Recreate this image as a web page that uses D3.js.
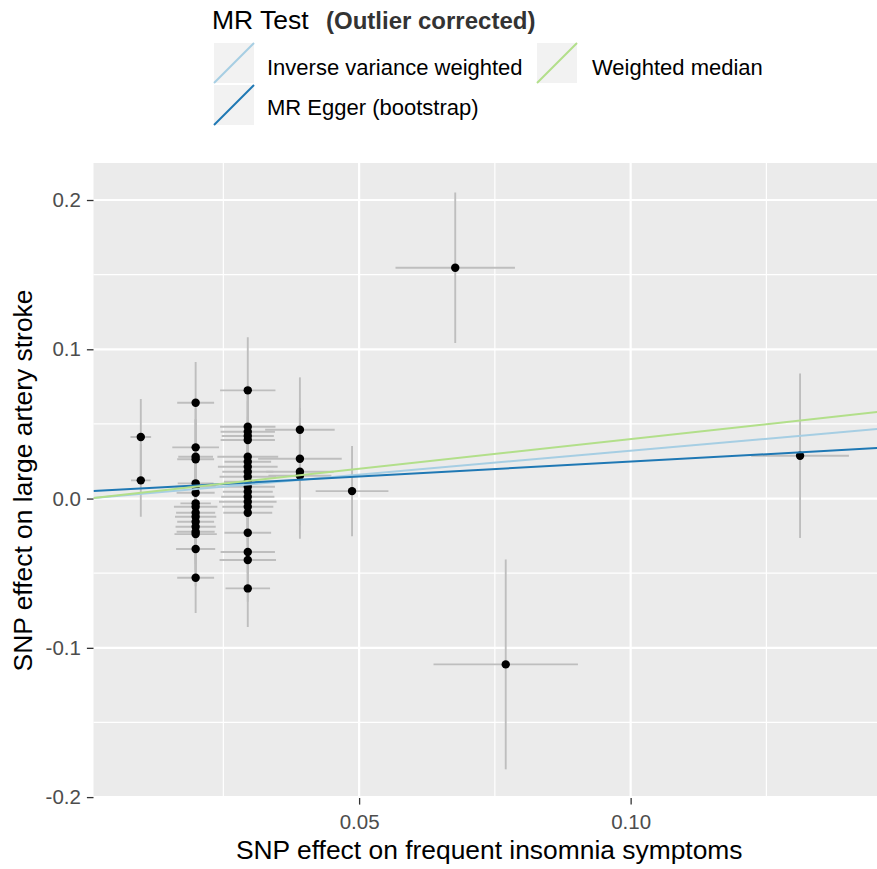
<!DOCTYPE html>
<html>
<head>
<meta charset="utf-8">
<script src="https://cdn.jsdelivr.net/npm/d3@7"></script>
<style>
  body { margin: 0; background: #ffffff; }
  svg { display: block; }
  text { font-family: "Liberation Sans", Arial, Helvetica, sans-serif; }
</style>
</head>
<body>
<svg id="chart" width="877" height="869"></svg>
<script>
// SNP effects on the exposure (frequent insomnia symptoms)
const betaExposure = [
  0.0098, 0.0098,
  0.0199, 0.0199, 0.0199, 0.0199, 0.0199, 0.0199, 0.0199, 0.0199, 0.0199,
  0.0199, 0.0199, 0.0199, 0.0199, 0.0199, 0.0199, 0.0199, 0.0199,
  0.0295, 0.0295, 0.0295, 0.0295, 0.0295, 0.0295, 0.0295, 0.0295, 0.0295,
  0.0295, 0.0295, 0.0295, 0.0295, 0.0295, 0.0295, 0.0295, 0.0295, 0.0295,
  0.0295, 0.0295, 0.0295,
  0.0391, 0.0391, 0.0391, 0.0391,
  0.0487, 0.0677, 0.0770, 0.1312
];
const seExposure = [
  0.0019, 0.0018,
  0.0034, 0.0043, 0.0032, 0.0034, 0.0033, 0.0037, 0.0035, 0.0028, 0.0040,
  0.0036, 0.0038, 0.0034, 0.0037, 0.0035, 0.0039, 0.0036, 0.0034,
  0.0051, 0.0051, 0.0050, 0.0048, 0.0050, 0.0056, 0.0043, 0.0055, 0.0047,
  0.0052, 0.0044, 0.0050, 0.0046, 0.0049, 0.0053, 0.0047, 0.0045, 0.0043,
  0.0050, 0.0052, 0.0041,
  0.0064, 0.0077, 0.0062, 0.0058,
  0.0067, 0.0110, 0.0133, 0.0090
];
// SNP effects on the outcome (large artery stroke)
const betaOutcome = [
  0.0412, 0.0122,
  0.0642, 0.0343, 0.0280, 0.0263, 0.0102, 0.0079, 0.0039, -0.0032, -0.0055,
  -0.0095, -0.0122, -0.0155, -0.0189, -0.0222, -0.0238, -0.0338, -0.0531,
  0.0725, 0.0481, 0.0448, 0.0419, 0.0392, 0.0280, 0.0247, 0.0213, 0.0180,
  0.0146, 0.0113, 0.0079, 0.0046, 0.0012, -0.0021, -0.0055, -0.0095, -0.0229,
  -0.0358, -0.0412, -0.0602,
  0.0461, 0.0267, 0.0180, 0.0153,
  0.0050, 0.1546, -0.1111, 0.0287
];
const seOutcome = [
  0.0255, 0.0244,
  0.0273, 0.0260, 0.0250, 0.0270, 0.0240, 0.0260, 0.0250, 0.0240, 0.0260,
  0.0250, 0.0240, 0.0260, 0.0250, 0.0270, 0.0240, 0.0250, 0.0236,
  0.0355, 0.0280, 0.0270, 0.0290, 0.0260, 0.0270, 0.0250, 0.0280, 0.0260,
  0.0270, 0.0250, 0.0260, 0.0280, 0.0250, 0.0270, 0.0260, 0.0250, 0.0270,
  0.0260, 0.0280, 0.0259,
  0.0351, 0.0340, 0.0360, 0.0422,
  0.0302, 0.0504, 0.0703, 0.0551
];

// MR estimates drawn as regression lines
const methodNames = ["Inverse variance weighted", "MR Egger (bootstrap)", "Weighted median"];
const methodIntercepts = [0, 0.0048, 0];
const methodSlopes = [0.3203, 0.1996, 0.3987];
const methodColours = ["#A6CEE3", "#1F78B4", "#B2DF8A"];

const xTickValues = [0.05, 0.10];
const xTickLabels = ["0.05", "0.10"];
const xMinorValues = [0.025, 0.075, 0.125];
const yTickValues = [0.2, 0.1, 0.0, -0.1, -0.2];
const yTickLabels = ["0.2", "0.1", "0.0", "-0.1", "-0.2"];
const yMinorValues = [0.15, 0.05, -0.05, -0.15];

const svg = d3.select("#chart");
const panel = { left: 93.5, right: 885, top: 163, bottom: 798 };

const x = d3.scaleLinear().domain([0.00109, 0.14684]).range([panel.left, panel.right]);
const y = d3.scaleLinear().domain([-0.2006, 0.2248]).range([panel.bottom, panel.top]);

svg.append("defs").append("clipPath").attr("id", "panel-clip")
  .append("rect")
  .attr("x", panel.left).attr("y", panel.top)
  .attr("width", panel.right - panel.left).attr("height", panel.bottom - panel.top);

// panel background
svg.append("rect")
  .attr("x", panel.left).attr("y", panel.top)
  .attr("width", panel.right - panel.left).attr("height", panel.bottom - panel.top)
  .attr("fill", "#EBEBEB");

// grid lines
const grid = svg.append("g");
grid.selectAll(".xminor").data(xMinorValues).join("line")
  .attr("x1", d => x(d)).attr("x2", d => x(d))
  .attr("y1", panel.top).attr("y2", panel.bottom)
  .attr("stroke", "#ffffff").attr("stroke-width", 1.2);
grid.selectAll(".yminor").data(yMinorValues).join("line")
  .attr("y1", d => y(d)).attr("y2", d => y(d))
  .attr("x1", panel.left).attr("x2", panel.right)
  .attr("stroke", "#ffffff").attr("stroke-width", 1.2);
grid.selectAll(".xmajor").data(xTickValues).join("line")
  .attr("x1", d => x(d)).attr("x2", d => x(d))
  .attr("y1", panel.top).attr("y2", panel.bottom)
  .attr("stroke", "#ffffff").attr("stroke-width", 2.2);
grid.selectAll(".ymajor").data(yTickValues).join("line")
  .attr("y1", d => y(d)).attr("y2", d => y(d))
  .attr("x1", panel.left).attr("x2", panel.right)
  .attr("stroke", "#ffffff").attr("stroke-width", 2.2);

const snps = betaExposure.map((bx, i) => ({
  bx, sx: seExposure[i], by: betaOutcome[i], sy: seOutcome[i]
}));

const plot = svg.append("g").attr("clip-path", "url(#panel-clip)");

// vertical error bars (outcome SE)
plot.append("g").selectAll("line").data(snps).join("line")
  .attr("x1", d => x(d.bx)).attr("x2", d => x(d.bx))
  .attr("y1", d => y(d.by - d.sy)).attr("y2", d => y(d.by + d.sy))
  .attr("stroke", "#BEBEBE").attr("stroke-width", 1.9);

// horizontal error bars (exposure SE)
plot.append("g").selectAll("line").data(snps).join("line")
  .attr("x1", d => x(d.bx - d.sx)).attr("x2", d => x(d.bx + d.sx))
  .attr("y1", d => y(d.by)).attr("y2", d => y(d.by))
  .attr("stroke", "#BEBEBE").attr("stroke-width", 1.9);

// SNP points
plot.append("g").selectAll("circle").data(snps).join("circle")
  .attr("cx", d => x(d.bx)).attr("cy", d => y(d.by))
  .attr("r", 4.2).attr("fill", "#000000");

// method lines across the full panel
const xDom = x.domain();
const methods = methodNames.map((name, i) => ({
  name, a: methodIntercepts[i], b: methodSlopes[i], colour: methodColours[i]
}));
plot.append("g").selectAll("line").data(methods).join("line")
  .attr("x1", x(xDom[0])).attr("x2", x(xDom[1]))
  .attr("y1", d => y(d.a + d.b * xDom[0]))
  .attr("y2", d => y(d.a + d.b * xDom[1]))
  .attr("stroke", d => d.colour).attr("stroke-width", 2);

// axes
const yAxis = svg.append("g")
  .attr("transform", `translate(${panel.left},0)`)
  .call(d3.axisLeft(y).tickValues(yTickValues).tickSize(6.6).tickPadding(6)
    .tickFormat((d, i) => yTickLabels[i]));
const xAxis = svg.append("g")
  .attr("transform", `translate(0,${panel.bottom})`)
  .call(d3.axisBottom(x).tickValues(xTickValues).tickSize(6.6).tickPadding(5)
    .tickFormat((d, i) => xTickLabels[i]));
[xAxis, yAxis].forEach(ax => {
  ax.select(".domain").remove();
  ax.selectAll(".tick line").attr("stroke", "#333333").attr("stroke-width", 1.3);
  ax.selectAll(".tick text")
    .attr("fill", "#4D4D4D")
    .style("font-size", "20.5px")
    .style("font-family", "'Liberation Sans', Arial, sans-serif");
});
xAxis.selectAll(".tick text").attr("dy", null).attr("y", 31);

// axis titles
svg.append("text")
  .attr("x", (panel.left + panel.right) / 2).attr("y", 859)
  .attr("text-anchor", "middle")
  .style("font-size", "26.4px").attr("fill", "#000000")
  .text("SNP effect on frequent insomnia symptoms");
svg.append("text")
  .attr("transform", `translate(32,${(panel.top + panel.bottom) / 2}) rotate(-90)`)
  .attr("text-anchor", "middle")
  .style("font-size", "26.4px").attr("fill", "#000000")
  .text("SNP effect on large artery stroke");

// legend
const legend = svg.append("g");
const title = legend.append("text").attr("x", 212).attr("y", 29).attr("fill", "#000000");
title.append("tspan").style("font-size", "26.5px").text("MR Test");
title.append("tspan").attr("x", 326).style("font-size", "24px").style("font-weight", "bold")
  .attr("fill", "#333333").text("(Outlier corrected)");

const keySize = 40;
const legendSlots = [
  { kx: 214, ky: 43, tx: 267, ty: 75 },
  { kx: 214, ky: 85, tx: 267, ty: 115 },
  { kx: 537, ky: 43, tx: 592, ty: 75 }
];
const keys = legend.selectAll(".key").data(methods).join("g")
  .attr("transform", (d, i) => `translate(${legendSlots[i].kx},${legendSlots[i].ky})`);
keys.append("rect").attr("width", keySize).attr("height", keySize).attr("fill", "#F2F2F2");
keys.append("line")
  .attr("x1", 0).attr("y1", keySize).attr("x2", keySize).attr("y2", 0)
  .attr("stroke", d => d.colour).attr("stroke-width", 2);
legend.selectAll(".label").data(methods).join("text")
  .attr("x", (d, i) => legendSlots[i].tx).attr("y", (d, i) => legendSlots[i].ty)
  .style("font-size", "22px").attr("fill", "#000000")
  .text(d => d.name);
</script>
</body>
</html>
